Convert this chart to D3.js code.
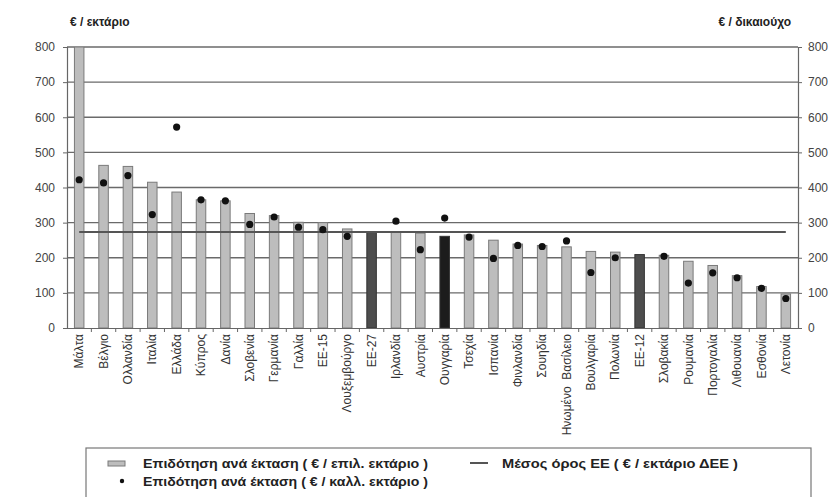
<!DOCTYPE html>
<html><head><meta charset="utf-8">
<script src="https://cdn.jsdelivr.net/npm/d3@7"></script>
<style>
body{margin:0;background:#fff;}
svg{display:block;font-family:"Liberation Sans",Arial,sans-serif;}
</style></head><body>
<svg id="c" width="831" height="497"></svg>
<script>
const categories = ["Μάλτα","Βέλγιο","Ολλανδία","Ιταλία","Ελλάδα","Κύπρος","Δανία","Σλοβενία","Γερμανία","Γαλλία","ΕΕ-15","Λουξεμβούργο","ΕΕ-27","Ιρλανδία","Αυστρία","Ουγγαρία","Τσεχία","Ισπανία","Φινλανδία","Σουηδία","Ηνωμένο  Βασίλειο","Βουλγαρία","Πολωνία","ΕΕ-12","Σλοβακία","Ρουμανία","Πορτογαλία","Λιθουανία","Εσθονία","Λετονία"];
const barValues = [800,463,460,415,387,365,362,326,320,301,300,282,273,273,270,261,265,250,239,235,231,218,216,209,207,190,178,149,118,97];
const dotValues = [422,413,434,323,572,365,362,295,316,287,280,261,null,304,223,313,259,198,235,232,248,158,200,null,204,128,157,143,113,84];
const euAverage = 273;
const yTicks = [0,100,200,300,400,500,600,700,800];
const darkCats = {"ΕΕ-27":"#4d4d4d","ΕΕ-12":"#4d4d4d","Ουγγαρία":"#1c1c1c"};
const legendLabels = ["Επιδότηση ανά έκταση ( € / επιλ. εκτάριο )","Μέσος όρος ΕΕ ( € / εκτάριο ΔΕΕ )","Επιδότηση ανά έκταση ( € / καλλ. εκτάριο )"];

const svg = d3.select("#c");
const L=67, R=798, T=47, B=328;
const x = d3.scaleBand().domain(categories).range([L,R]).padding(0);
const y = d3.scaleLinear().domain([0,800]).range([B,T]);
const yR = d3.scaleLinear().domain([0,800]).range([B,T]);

svg.append("defs").append("clipPath").attr("id","clip").append("rect")
  .attr("x",L).attr("y",T).attr("width",R-L).attr("height",B-T);

// gridlines
svg.append("g").selectAll("line").data(yTicks.filter(d=>d>0)).join("line")
  .attr("x1",L).attr("x2",R).attr("y1",d=>y(d)).attr("y2",d=>y(d))
  .attr("stroke","#6a6a6a").attr("stroke-width",1.4);

// bars
const bw = x.step()*0.39;
svg.append("g").attr("clip-path","url(#clip)").selectAll("rect").data(categories).join("rect")
  .attr("x",d=>x(d)+x.bandwidth()/2-bw/2)
  .attr("y",(d,i)=>y(barValues[i]))
  .attr("width",bw)
  .attr("height",(d,i)=>B-y(barValues[i]))
  .attr("fill",d=>darkCats[d]||"#bdbdbd")
  .attr("stroke",d=>darkCats[d]?"#333":"#7a7a7a").attr("stroke-width",1);

// EU average line
const line = d3.line().x(d=>x(d)+x.bandwidth()/2).y(()=>y(euAverage));
svg.append("path").datum(categories).attr("d",line)
  .attr("fill","none").attr("stroke","#555").attr("stroke-width",2);

// dots
svg.append("g").selectAll("circle").data(categories.map((c,i)=>({c,v:dotValues[i]})).filter(d=>d.v!=null)).join("circle")
  .attr("cx",d=>x(d.c)+x.bandwidth()/2).attr("cy",d=>y(d.v)).attr("r",3.6).attr("fill","#111");

// axes
const axL = d3.axisLeft(y).tickValues(yTicks).tickSize(4).tickPadding(8);
const gL = svg.append("g").attr("transform",`translate(${L},0)`).call(axL);
const axRt = d3.axisRight(yR).tickValues(yTicks).tickSize(4).tickPadding(6);
const gR = svg.append("g").attr("transform",`translate(${R},0)`).call(axRt);
[gL,gR].forEach(g=>{
  g.select(".domain").attr("stroke","#666").attr("stroke-width",1.2);
  g.selectAll(".tick line").attr("stroke","#666");
  g.selectAll("text").attr("font-size",12).attr("fill","#444").attr("font-family","Liberation Sans,Arial,sans-serif");
});
gL.selectAll(".tick").filter(d=>d===800).select("line").remove();
gR.selectAll(".tick").filter(d=>d===800).select("line").remove();

const axB = d3.axisBottom(x).tickSize(0).tickPadding(0);
const gB = svg.append("g").attr("transform",`translate(0,${B})`).call(axB);
gB.select(".domain").attr("stroke","#666").attr("stroke-width",1.2);
gB.selectAll(".tick text").attr("transform","rotate(-90)").attr("text-anchor","end")
  .attr("x",-6).attr("y",0).attr("dy","0.35em").attr("font-size",12).attr("fill","#333")
  .attr("font-family","Liberation Sans,Arial,sans-serif").style("white-space","pre").attr("xml:space","preserve");
// separator ticks between categories
svg.append("g").selectAll("line").data(categories.slice(1)).join("line")
  .attr("x1",d=>x(d)).attr("x2",d=>x(d)).attr("y1",B).attr("y2",B+4).attr("stroke","#666");

// axis titles
svg.append("text").attr("x",70).attr("y",26).text("€ / εκτάριο")
  .attr("font-size",12).attr("font-weight","bold").attr("fill","#222");
svg.append("text").attr("x",791).attr("y",26).attr("text-anchor","end").text("€ / δικαιούχο")
  .attr("font-size",12).attr("font-weight","bold").attr("fill","#222");

// legend
const lg = svg.append("g");
lg.append("rect").attr("x",86).attr("y",448).attr("width",725).attr("height",60)
  .attr("fill","#fff").attr("stroke","#777").attr("stroke-width",1.2);
lg.append("rect").attr("x",108).attr("y",461).attr("width",17).attr("height",5)
  .attr("fill","#bdbdbd").attr("stroke","#7a7a7a");
lg.append("line").attr("x1",470).attr("x2",488).attr("y1",463).attr("y2",463).attr("stroke","#555").attr("stroke-width",2);
lg.append("circle").attr("cx",122).attr("cy",481).attr("r",2.2).attr("fill","#111");
const lt = [[143,467.5,legendLabels[0],285],[502,467.5,legendLabels[1],236],[143,485.5,legendLabels[2],285]];
lg.selectAll("text.l").data(lt).join("text").attr("class","l")
  .attr("x",d=>d[0]).attr("y",d=>d[1]).text(d=>d[2])
  .attr("textLength",d=>d[3]).attr("lengthAdjust","spacingAndGlyphs")
  .attr("font-size",13).attr("font-weight","bold").attr("fill","#222")
  .attr("font-family","'Liberation Sans',Arial,sans-serif");
</script>
</body></html>
